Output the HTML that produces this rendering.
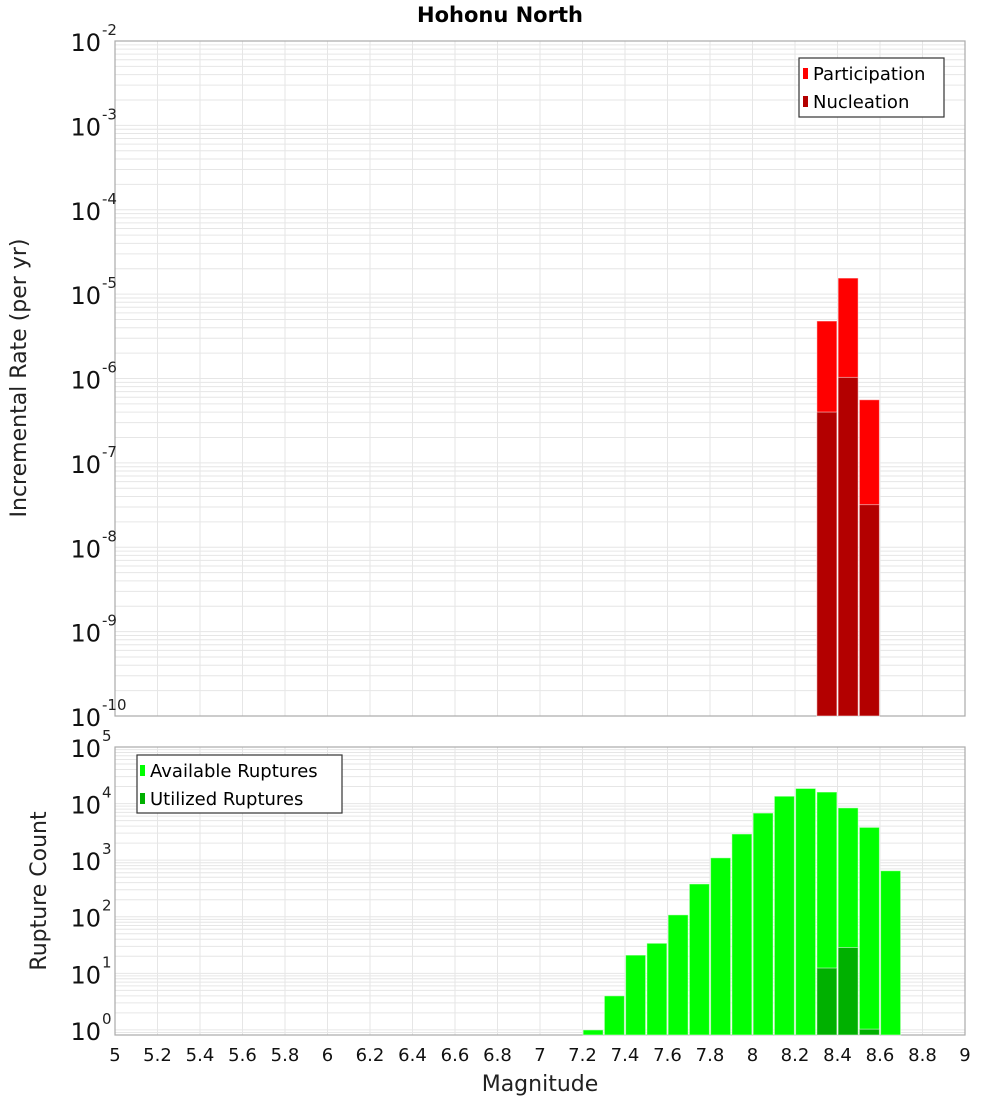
<!DOCTYPE html>
<html><head><meta charset="utf-8"><style>
html,body{margin:0;padding:0;background:#fff;}
svg{display:block;font-family:"DejaVu Sans","Liberation Sans",sans-serif;}
</style></head><body>
<svg id="chart" width="1000" height="1100" viewBox="0 0 1000 1100" xmlns="http://www.w3.org/2000/svg">
<rect width="1000" height="1100" fill="#fff"/>
<text x="500" y="22" text-anchor="middle" font-size="21" font-weight="bold">Hohonu North</text>
<g id="top"></g>
<g id="bot"></g>
<text transform="translate(26,378) rotate(-90)" text-anchor="middle" font-size="22" fill="#222">Incremental Rate (per yr)</text>
<text transform="translate(46,891) rotate(-90)" text-anchor="middle" font-size="22" fill="#222">Rupture Count</text>
<text x="540" y="1091" text-anchor="middle" font-size="22" fill="#222">Magnitude</text>
<g>
<rect x="799" y="58" width="145" height="59" fill="#fff" stroke="#333" stroke-width="1.2"/>
<rect x="803" y="68" width="5" height="11" fill="#ff0000"/>
<text x="813" y="80" font-size="18">Participation</text>
<rect x="803" y="96" width="5" height="11" fill="#b30000"/>
<text x="813" y="108" font-size="18">Nucleation</text>
</g>
<g>
<rect x="137" y="755" width="205" height="58" fill="#fff" stroke="#333" stroke-width="1.2"/>
<rect x="140" y="765" width="5" height="11" fill="#00ff00"/>
<text x="150" y="777" font-size="18">Available Ruptures</text>
<rect x="140" y="793" width="5" height="11" fill="#00b000"/>
<text x="150" y="805" font-size="18">Utilized Ruptures</text>
</g>
</svg>
<script>
const rateMags = [8.35, 8.45, 8.55];
const participation = [4.8e-6, 1.55e-5, 5.6e-7];
const nucleation = [4.0e-7, 1.03e-6, 3.2e-8];
const countMags = [7.25,7.35,7.45,7.55,7.65,7.75,7.85,7.95,8.05,8.15,8.25,8.35,8.45,8.55,8.65];
const available = [1.0,4,21,34,108,380,1100,2900,6800,13500,18500,16000,8400,3800,650];
const utilizedMags = [8.35, 8.45, 8.55];
const utilized = [12.4, 28.6, 1.03];
const xTicks = [5,5.2,5.4,5.6,5.8,6,6.2,6.4,6.6,6.8,7,7.2,7.4,7.6,7.8,8,8.2,8.4,8.6,8.8,9];
const topExps = [-10,-9,-8,-7,-6,-5,-4,-3,-2];
const botExps = [0,1,2,3,4,5];

const NS = "http://www.w3.org/2000/svg";
const X0 = 115, X1 = 965;
function xs(m){ return X0 + (m - 5) / 4 * (X1 - X0); }
const T = {top:41, bot:716, lmin:-10, lmax:-2};
const B = {top:747, bot:1035, lmin:-0.09, lmax:5};
function ys(ax, v){ return ax.bot - (Math.log10(v) - ax.lmin) / (ax.lmax - ax.lmin) * (ax.bot - ax.top); }
function mk(tag, attrs, parent){
  const e = document.createElementNS(NS, tag);
  for (const k in attrs) e.setAttribute(k, attrs[k]);
  parent.appendChild(e); return e;
}
function drawPanel(g, ax, exps){
  // grid
  for (let e = Math.floor(ax.lmin); e <= ax.lmax; e++) {
    for (let k = 1; k <= 9; k++) {
      const v = k * Math.pow(10, e);
      const lv = Math.log10(v);
      if (lv < ax.lmin - 1e-9 || lv > ax.lmax + 1e-9) continue;
      const y = ys(ax, v);
      const l = mk('line', {x1:X0, x2:X1, y1:y, y2:y, stroke:'#e6e6e6', 'stroke-width':1}, g);
      
      
    }
  }
  xTicks.forEach(t => {
    const x = xs(t);
    const l = mk('line', {x1:x, x2:x, y1:ax.top, y2:ax.bot, stroke:'#e6e6e6', 'stroke-width':1}, g);
    
    
  });
  const fr = mk('rect', {x:X0, y:ax.top, width:X1-X0, height:ax.bot-ax.top, fill:'none', stroke:'#aaa', 'stroke-width':1.2}, g);
  
  
  exps.forEach(e => {
    const y = ys(ax, Math.pow(10, e));
    const t = mk('text', {x:101, y:y + 10, 'text-anchor':'end', 'font-size':24, fill:'#111'}, g);
    t.textContent = '10';
    
    
    const s = mk('text', {x:102, y:y - 6, 'text-anchor':'start', 'font-size':15, fill:'#222'}, g);
    s.textContent = String(e);
    
    
  });
}
function bar(g, ax, m, v, fill, name){
  const x = xs(m - 0.05), w = xs(m + 0.05) - x;
  const y = Math.max(ys(ax, v), ax.top);
  const r = mk('rect', {x:x + 0.6, y:y, width:w - 1.2, height:ax.bot - y, fill:fill, stroke:'#fff', 'stroke-opacity':0.5, 'stroke-width':1}, g);
  
  
}
const gt = document.getElementById('top'), gb = document.getElementById('bot');
drawPanel(gt, T, topExps);
drawPanel(gb, B, botExps);
rateMags.forEach((m,i) => bar(gt, T, m, participation[i], '#ff0000', 'bar-participation'));
rateMags.forEach((m,i) => bar(gt, T, m, nucleation[i], '#b30000', 'bar-nucleation'));
countMags.forEach((m,i) => bar(gb, B, m, available[i], '#00ff00', 'bar-available'));
utilizedMags.forEach((m,i) => bar(gb, B, m, utilized[i], '#00b000', 'bar-utilized'));
xTicks.forEach(t => {
  const tx = mk('text', {x:xs(t), y:1061, 'text-anchor':'middle', 'font-size':18, fill:'#111'}, gb);
  tx.textContent = String(t);
  
  
});
</script>
</body></html>
